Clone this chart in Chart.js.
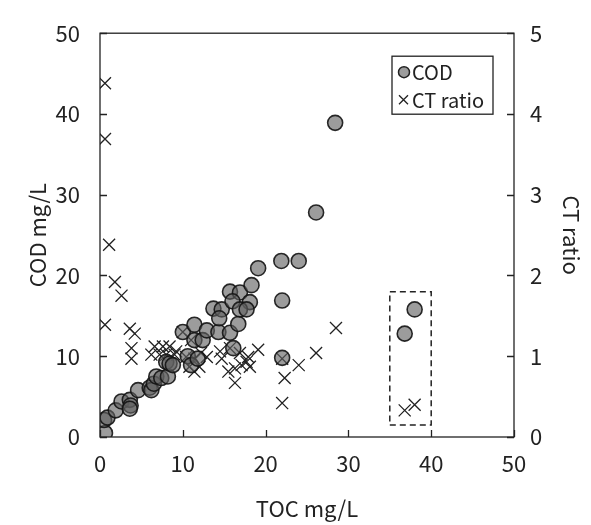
<!DOCTYPE html>
<html>
<head>
<meta charset="utf-8">
<script src="https://cdn.jsdelivr.net/npm/chart.js@4"></script>
<style>
  body { margin: 0; background: #fff; }
  #wrap { width: 591px; height: 525px; }
</style>
</head>
<body>
<div id="wrap"><canvas id="myChart"></canvas></div>
<script>
// TOC (mg/L) vs COD (mg/L)
var codToc = [0.6, 0.5, 0.9, 1.9, 2.6, 3.6, 3.7, 3.6, 4.6, 6.0, 6.2, 6.5, 6.8, 7.4, 8.2, 8.0, 8.4, 8.8,
    10.6, 11.0, 11.8, 10.0, 11.4, 11.4, 12.4, 12.9, 14.3, 15.7, 16.1, 13.7, 14.7, 14.4, 16.7, 15.7,
    16.9, 16.0, 18.1, 16.9, 17.7, 18.3, 19.1, 21.9, 24.0, 26.1, 28.4, 22.0, 22.0, 36.8, 38.0];
var codVal = [0.5, 2.1, 2.4, 3.3, 4.4, 4.6, 3.9, 3.5, 5.8, 6.1, 5.8, 6.6, 7.5, 7.3, 7.5, 9.3, 9.1, 8.9,
    10.0, 8.9, 9.7, 13.0, 13.9, 12.0, 12.0, 13.2, 13.0, 12.9, 11.0, 15.9, 15.8, 14.7, 14.0, 18.0,
    17.9, 16.8, 16.7, 15.8, 15.8, 18.8, 20.9, 21.8, 21.8, 27.8, 38.9, 16.9, 9.8, 12.8, 15.8];

// TOC (mg/L) vs CT ratio
var ctToc = [0.6, 0.6, 1.1, 1.8, 2.6, 0.6, 3.6, 4.2, 3.8, 3.8, 6.6, 7.6, 8.4, 6.2, 7.2, 8.0, 9.0, 9.2,
    10.0, 11.0, 10.4, 11.4, 12.2, 12.9, 10.8, 11.4, 12.0, 14.5, 14.7, 15.7, 16.9, 17.9, 19.1, 15.5,
    16.3, 17.1, 17.7, 18.1, 16.3, 22.0, 22.3, 22.0, 24.0, 26.1, 28.5, 36.8, 38.0];
var ctVal = [4.38, 3.69, 2.38, 1.92, 1.75, 1.39, 1.34, 1.28, 1.10, 0.97, 1.12, 1.12, 1.12, 1.02, 1.02, 1.02, 1.02, 1.06,
    1.30, 1.20, 0.99, 0.97, 1.04, 0.99, 0.87, 0.81, 0.87, 1.06, 0.97, 1.10, 1.04, 0.99, 1.08, 0.81,
    0.85, 0.89, 0.93, 0.87, 0.67, 0.97, 0.73, 0.42, 0.89, 1.04, 1.35, 0.33, 0.40];

// dashed highlight box (TOC range, COD range)
var boxX = [35, 40];
var boxY = [1.5, 18];

var xTicks = [0, 10, 20, 30, 40, 50];
var yTicks = [0, 10, 20, 30, 40, 50];
var y2Ticks = [0, 1, 2, 3, 4, 5];

var FONT = "'Noto Sans CJK JP', 'Noto Sans', sans-serif";
var circleFill = 'rgba(95,95,95,0.62)';

function pairs(xs, ys) {
    let out = [];
    for (let i = 0; i < xs.length; i++) {
        out.push({ x: xs[i], y: ys[i] });
    }
    return out;
}

// frame + inward tick marks + legend box
var framePlugin = {
    id: 'frame',
    afterDraw: function (chart) {
        const ctx = chart.ctx;
        const a = chart.chartArea;
        const sx = chart.scales.x, sy = chart.scales.y, sy2 = chart.scales.y2;
        ctx.save();
        ctx.strokeStyle = '#222';
        ctx.lineWidth = 1.3;
        ctx.strokeRect(a.left, a.top, a.right - a.left, a.bottom - a.top);
        ctx.beginPath();
        xTicks.forEach(function (v) {
            let px = Math.round(sx.getPixelForValue(v)) + 0.5;
            ctx.moveTo(px, a.bottom); ctx.lineTo(px, a.bottom - 7);
        });
        yTicks.forEach(function (v) {
            let py = Math.round(sy.getPixelForValue(v)) + 0.5;
            ctx.moveTo(a.left, py); ctx.lineTo(a.left + 7, py);
        });
        y2Ticks.forEach(function (v) {
            let py = Math.round(sy2.getPixelForValue(v)) + 0.5;
            ctx.moveTo(a.right, py); ctx.lineTo(a.right - 7, py);
        });
        ctx.stroke();

        // legend
        let lx = a.left + 292, ly = a.top + 23;
        ctx.lineWidth = 1.3;
        ctx.strokeStyle = '#222';
        ctx.strokeRect(lx, ly, 101, 58);
        ctx.beginPath();
        ctx.arc(lx + 12, ly + 16, 5.5, 0, Math.PI * 2);
        ctx.fillStyle = circleFill;
        ctx.fill();
        ctx.lineWidth = 1.5;
        ctx.stroke();
        ctx.beginPath();
        ctx.moveTo(lx + 7, ly + 39); ctx.lineTo(lx + 16, ly + 48);
        ctx.moveTo(lx + 16, ly + 39); ctx.lineTo(lx + 7, ly + 48);
        ctx.lineWidth = 1.3;
        ctx.stroke();
        ctx.fillStyle = '#222';
        ctx.font = '20px ' + FONT;
        ctx.textBaseline = 'middle';
        ctx.fillText('COD', lx + 20, ly + 16);
        ctx.fillText('CT ratio', lx + 20, ly + 44);
        ctx.restore();
    }
};

const ctx = document.getElementById('myChart').getContext('2d');
const myChart = new Chart(ctx, {
    type: 'scatter',
    data: {
        datasets: [
            {
                label: 'COD',
                data: pairs(codToc, codVal),
                yAxisID: 'y',
                pointStyle: 'circle',
                pointRadius: 7.5,
                backgroundColor: circleFill,
                borderColor: 'rgba(20,20,20,0.9)',
                borderWidth: 1.6
            },
            {
                label: 'CT ratio',
                data: pairs(ctToc, ctVal),
                yAxisID: 'y2',
                pointStyle: 'crossRot',
                pointRadius: 8.5,
                borderColor: '#222',
                borderWidth: 1.3
            },
            {
                label: 'box',
                type: 'line',
                data: [
                    { x: boxX[0], y: boxY[0] }, { x: boxX[1], y: boxY[0] },
                    { x: boxX[1], y: boxY[1] }, { x: boxX[0], y: boxY[1] },
                    { x: boxX[0], y: boxY[0] }
                ],
                yAxisID: 'y',
                borderColor: '#222',
                borderWidth: 1.5,
                borderDash: [6, 4],
                pointRadius: 0,
                fill: false,
                tension: 0
            }
        ]
    },
    options: {
        responsive: true,
        maintainAspectRatio: false,
        animation: false,
        layout: { padding: { top: 26, left: 0, right: 0, bottom: 0 } },
        plugins: {
            legend: { display: false },
            tooltip: { enabled: false }
        },
        scales: {
            x: {
                type: 'linear',
                min: 0, max: 50,
                afterFit: function (s) { s.height = 88; },
                grid: { display: false, drawTicks: false },
                border: { display: false },
                ticks: { stepSize: 10, padding: 13, color: '#222', font: { family: FONT, size: 22 } },
                title: { display: true, text: 'TOC mg/L', color: '#222', padding: { bottom: 3 }, font: { family: FONT, size: 22 } }
            },
            y: {
                type: 'linear',
                position: 'left',
                min: 0, max: 50,
                afterFit: function (s) { s.width = 100; },
                grid: { display: false, drawTicks: false },
                border: { display: false },
                ticks: { stepSize: 10, padding: 20, color: '#222', font: { family: FONT, size: 22 } },
                title: { display: true, text: 'COD mg/L', color: '#222', padding: { top: 24 }, font: { family: FONT, size: 22 } }
            },
            y2: {
                type: 'linear',
                position: 'right',
                min: 0, max: 5,
                afterFit: function (s) { s.width = 77; },
                grid: { display: false, drawTicks: false },
                border: { display: false },
                ticks: { stepSize: 1, padding: 16, color: '#222', font: { family: FONT, size: 22 } },
                title: { display: true, text: 'CT ratio', color: '#222', padding: { top: 6 }, font: { family: FONT, size: 22 } }
            }
        }
    },
    plugins: [framePlugin]
});
</script>
</body>
</html>
